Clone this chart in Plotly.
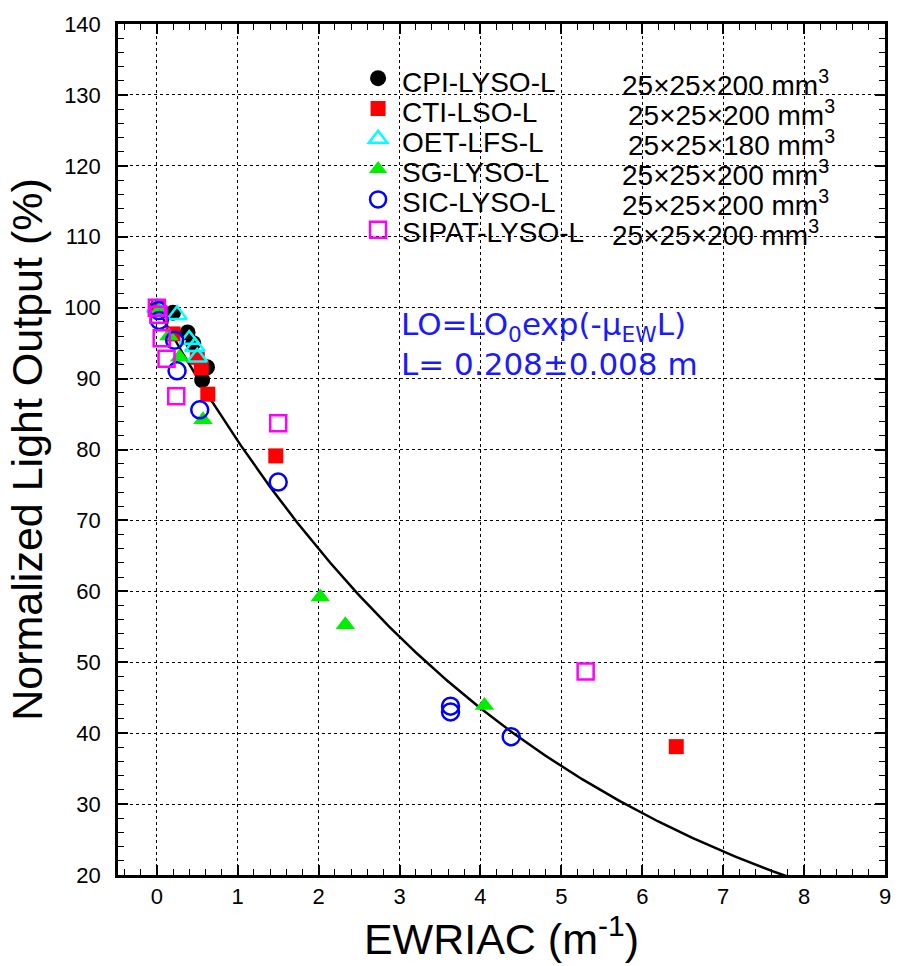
import numpy as np
import plotly.graph_objects as go

# Light output vs. EWRIAC for long LYSO/LSO/LFS crystals
cpi_x = [0.0, 0.20, 0.38, 0.45, 0.56, 0.62]
cpi_y = [100.0, 99.3, 96.5, 95.0, 89.8, 91.6]

cti_x = [0.02, 0.20, 0.50, 0.55, 0.63, 1.47, 6.42]
cti_y = [100.0, 96.3, 93.0, 91.5, 87.8, 79.1, 38.1]

oet_x = [0.0, 0.25, 0.40, 0.47, 0.50]
oet_y = [100.0, 99.0, 95.5, 94.5, 93.0]

sg_x = [0.02, 0.15, 0.28, 0.57, 2.02, 2.33, 4.05]
sg_y = [99.5, 96.0, 93.0, 84.2, 59.2, 55.3, 43.9]

sic_x = [0.02, 0.03, 0.22, 0.25, 0.53, 1.50, 3.63, 3.63, 4.38]
sic_y = [99.6, 98.2, 95.4, 91.1, 85.6, 75.4, 43.8, 43.0, 39.5]

sipat_x = [0.0, 0.02, 0.06, 0.12, 0.24, 1.50, 5.30]
sipat_y = [100.0, 99.0, 95.7, 92.8, 87.5, 83.7, 48.7]

names = ["CPI-LYSO-L", "CTI-LSO-L", "OET-LFS-L", "SG-LYSO-L", "SIC-LYSO-L", "SIPAT-LYSO-L"]
dims = ["25×25×200 mm<sup>3</sup>", "25×25×200 mm<sup>3</sup>", "25×25×180 mm<sup>3</sup>",
        "25×25×200 mm<sup>3</sup>", "25×25×200 mm<sup>3</sup>", "25×25×200 mm<sup>3</sup>"]

# exponential fit LO = LO0 * exp(-mu_EW * L)
lo0 = 100.0
att_len = 0.208
fit_x = np.linspace(0.0, 9.0, 400)
fit_y = lo0 * np.exp(-att_len * fit_x)

FONT = "Liberation Sans, Arial, sans-serif"
WIDE = "DejaVu Sans, Liberation Sans, sans-serif"

fig = go.Figure()

fig.add_trace(go.Scatter(x=fit_x, y=fit_y, mode="lines",
                         line=dict(color="black", width=2.5), showlegend=False,
                         hoverinfo="skip"))

styles = [
    (cpi_x, cpi_y, dict(symbol="circle", color="black", size=16)),
    (cti_x, cti_y, dict(symbol="square", color="#ff0000", size=15)),
    (oet_x, oet_y, dict(symbol="triangle-up-open", color="#00ffff", size=17,
                        line=dict(width=2.5, color="#00ffff"))),
    (sg_x, sg_y, dict(symbol="triangle-up", color="#00ee00", size=17)),
    (sic_x, sic_y, dict(symbol="circle-open", color="#0000ff", size=17,
                        line=dict(width=2.5, color="#0000ff"))),
    (sipat_x, sipat_y, dict(symbol="square-open", color="#ff00ff", size=16,
                            line=dict(width=2.5, color="#ff00ff"))),
]

# legend shows symbols only; the labels are set as annotations beside them
for nm, (xs, ys, mk) in zip(names, styles):
    fig.add_trace(go.Scatter(x=xs, y=ys, mode="markers", name=" ", marker=mk,
                             cliponaxis=False, hovertext=nm, hoverinfo="x+y+text"))

row_top = 0.9311
row_step = 30.2 / 856
name_x = 0.368
dim_x = [0.655, 0.662, 0.662, 0.655, 0.654, 0.642]
for i, (nm, d, dx) in enumerate(zip(names, dims, dim_x)):
    yy = row_top - i * row_step
    fig.add_annotation(x=name_x, y=yy, xref="paper", yref="paper",
                       text=nm, showarrow=False, xanchor="left", yanchor="middle",
                       font=dict(family=FONT, size=28, color="black"))
    fig.add_annotation(x=dx, y=yy, xref="paper", yref="paper",
                       text=d, showarrow=False, xanchor="left", yanchor="middle",
                       font=dict(family=FONT, size=28, color="black"))

# fit formula
fig.add_annotation(x=0.367, y=0.645, xref="paper", yref="paper",
                   text="LO=LO<sub>0</sub>exp(-μ<sub>EW</sub>L)", showarrow=False,
                   xanchor="left", yanchor="middle",
                   font=dict(family=WIDE, size=31, color="#1a1aff"))
fig.add_annotation(x=0.367, y=0.601, xref="paper", yref="paper",
                   text="L= 0.208±0.008 m", showarrow=False,
                   xanchor="left", yanchor="middle",
                   font=dict(family=WIDE, size=31, color="#1a1aff"))

axis_common = dict(
    showline=True, linecolor="black", linewidth=2.5, mirror="allticks",
    ticks="inside", ticklen=10, tickwidth=1.5, tickcolor="black",
    showgrid=True, gridcolor="black", griddash="dot", gridwidth=1.3,
    zeroline=False,
    tickfont=dict(family=FONT, size=22, color="black"),
)

fig.update_xaxes(range=[-0.48, 9.0], dtick=1, tick0=0, ticklabelstandoff=0,
                 minor=dict(dtick=0.2, tick0=0, ticks="inside", ticklen=6,
                            tickcolor="black", tickwidth=1.2, showgrid=False),
                 title=dict(text="EWRIAC (m<sup>-1</sup>)",
                            font=dict(family=FONT, size=43, color="black"), standoff=14),
                 **axis_common)
fig.update_yaxes(range=[20, 140], dtick=10, tick0=20, ticklabelstandoff=10,
                 minor=dict(dtick=2, tick0=20, ticks="inside", ticklen=6,
                            tickcolor="black", tickwidth=1.2, showgrid=False),
                 title=dict(text="Normalized Light Output (%)",
                            font=dict(family=FONT, size=43, color="black"), standoff=9),
                 **axis_common)

fig.update_layout(
    width=903, height=966,
    margin=dict(l=118, r=18, t=19, b=91),
    paper_bgcolor="white", plot_bgcolor="white",
    showlegend=True,
    legend=dict(x=0.313, y=0.960, xanchor="left", yanchor="top",
                bgcolor="rgba(0,0,0,0)", borderwidth=0,
                font=dict(family=FONT, size=21, color="black"),
                itemsizing="trace", tracegroupgap=0),
)

fig.write_html("out.html")
